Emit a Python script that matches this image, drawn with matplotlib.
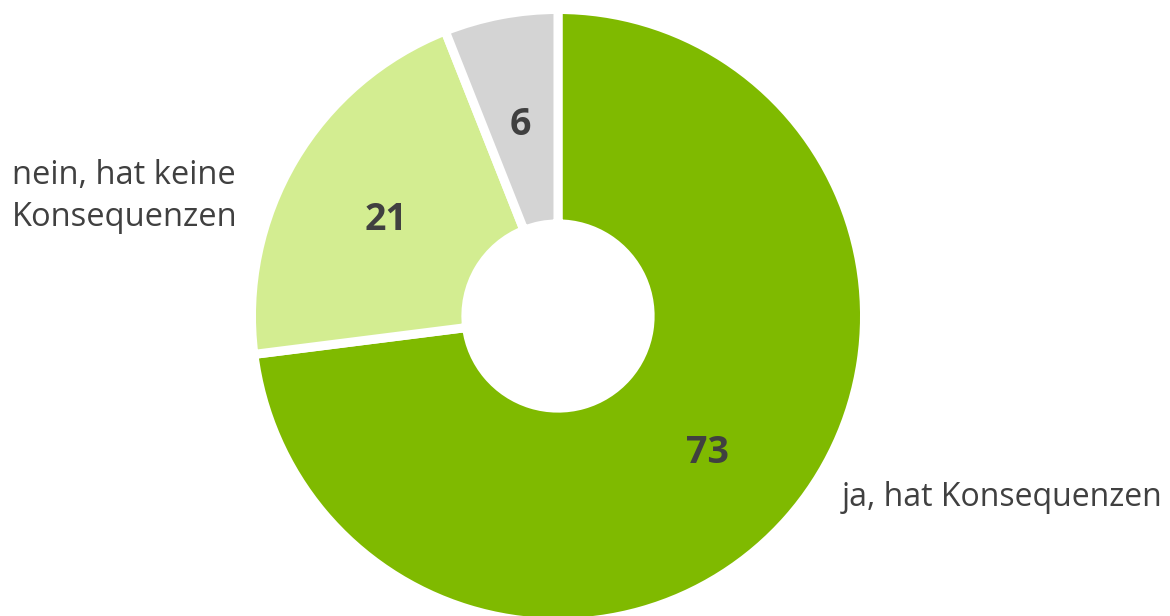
import matplotlib.pyplot as plt
import numpy as np

# ---- Data ----
labels = ["ja, hat Konsequenzen", "nein, hat keine\nKonsequenzen", ""]
values = [73, 21, 6]
colors = ["#7FBA00", "#D3ED91", "#D4D4D4"]

plt.rcParams['font.family'] = ['Open Sans', 'DejaVu Sans']
TEXT = "#404040"

fig = plt.figure(figsize=(11.7, 6.16), dpi=100)
ax = fig.add_axes([0, 0, 1, 1])

# 1 unit = 302 px, pie centre at pixel (558, 316)
R = 1.015
wedges, _ = ax.pie(values, colors=colors, startangle=90, counterclock=False,
                   radius=R,
                   wedgeprops=dict(width=0.71, edgecolor="white", linewidth=6.5))

# value labels in each ring
total = sum(values)
start = 90.0
for v in values:
    mid = np.deg2rad(start - 360 * v / total / 2)
    start -= 360 * v / total
    ax.text(0.66 * np.cos(mid), 0.66 * np.sin(mid) - 0.017, str(v), ha="center", va="center",
            fontsize=27, fontweight="bold", color=TEXT)

# category labels
ax.text(1.47, -0.60, labels[0], ha="center", va="center", fontsize=23, color=TEXT)
ax.text(-1.808, 0.395, labels[1], ha="left", va="center", fontsize=23.5, color=TEXT,
        linespacing=1.35)

ax.set_xlim(-558 / 302, (1170 - 558) / 302)
ax.set_ylim(-(616 - 316) / 302, 316 / 302)
ax.set_aspect("equal")
ax.axis("off")

fig.savefig("out.png", dpi=100)
